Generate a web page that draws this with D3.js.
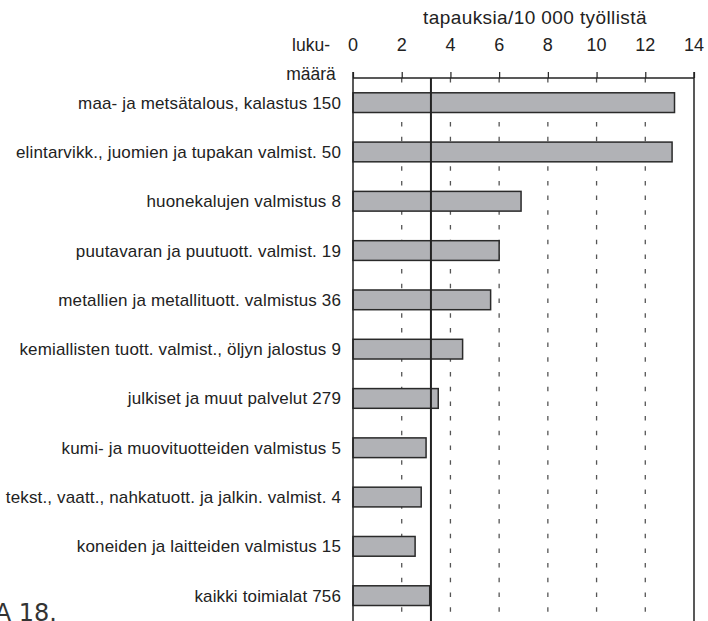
<!DOCTYPE html>
<html>
<head>
<meta charset="utf-8">
<script src="https://cdn.jsdelivr.net/npm/d3@7"></script>
<style>
  body { margin: 0; background: #fff; }
  text { font-family: "Liberation Sans", Arial, sans-serif; fill: #222; }
</style>
</head>
<body>
<svg id="chart" width="708" height="621"></svg>
<script>
// toimialat, lukumäärä ja tapauksia / 10 000 työllistä
var categories = [
  "maa- ja metsätalous, kalastus",
  "elintarvikk., juomien ja tupakan valmist.",
  "huonekalujen valmistus",
  "puutavaran ja puutuott. valmist.",
  "metallien ja metallituott. valmistus",
  "kemiallisten tuott. valmist., öljyn jalostus",
  "julkiset ja muut palvelut",
  "kumi- ja muovituotteiden valmistus",
  "tekst., vaatt., nahkatuott. ja jalkin. valmist.",
  "koneiden ja laitteiden valmistus",
  "kaikki toimialat"
];
var counts = [150, 50, 8, 19, 36, 9, 279, 5, 4, 15, 756];
var rates = [13.2, 13.1, 6.9, 6.0, 5.65, 4.5, 3.5, 3.0, 2.8, 2.55, 3.15];
var average = 3.2;
var ticks = [0, 2, 4, 6, 8, 10, 12, 14];

var svg = d3.select("#chart");
var left = 353, right = 694, axisY = 78, bottom = 625;

var x = d3.scaleLinear().domain([0, 14]).range([left, right]);
var y = d3.scaleBand().domain(categories).range([axisY, axisY + 11 * 49.3]).paddingInner(0.6).paddingOuter(0.3);

// katkoviivat
svg.append("g").selectAll("line")
  .data(ticks.slice(1, -1))
  .enter().append("line")
  .attr("x1", d => x(d)).attr("x2", d => x(d))
  .attr("y1", axisY).attr("y2", bottom)
  .attr("stroke", "#555").attr("stroke-width", 1.3)
  .attr("stroke-dasharray", "4.5,10.2");

// palkit
svg.append("g").selectAll("rect")
  .data(categories)
  .enter().append("rect")
  .attr("x", x(0))
  .attr("y", d => y(d))
  .attr("width", (d, i) => x(rates[i]) - x(0))
  .attr("height", y.bandwidth())
  .attr("fill", "#b1b2b6")
  .attr("stroke", "#2a2a2a").attr("stroke-width", 1.5);

// kehys
svg.append("line").attr("x1", left).attr("x2", left).attr("y1", axisY - 6).attr("y2", bottom)
  .attr("stroke", "#222").attr("stroke-width", 1.5);
svg.append("line").attr("x1", right).attr("x2", right).attr("y1", axisY - 6).attr("y2", bottom)
  .attr("stroke", "#222").attr("stroke-width", 1.5);

// akseli ylhäällä
var axis = d3.axisTop(x).tickValues(ticks).tickSize(6).tickFormat("");
var ax = svg.append("g").attr("transform", "translate(0," + axisY + ")").call(axis);
ax.select(".domain").attr("stroke", "#222").attr("stroke-width", 1.5).attr("d", "M" + left + ",0H" + right);
ax.selectAll(".tick line").attr("stroke", "#222").attr("stroke-width", 1.2);

svg.append("g").selectAll("text")
  .data(ticks)
  .enter().append("text")
  .attr("x", d => x(d)).attr("y", 51)
  .attr("text-anchor", "middle")
  .style("font-size", "18px")
  .text(d => d);

// keskiarvoviiva
svg.append("line").attr("x1", x(average)).attr("x2", x(average))
  .attr("y1", axisY).attr("y2", bottom)
  .attr("stroke", "#222").attr("stroke-width", 2);

// selitteet
svg.append("g").selectAll("text")
  .data(categories)
  .enter().append("text")
  .attr("x", 341)
  .attr("y", d => y(d) + y.bandwidth() / 2)
  .attr("dy", "0.35em")
  .attr("text-anchor", "end")
  .style("font-size", "17px")
  .style("letter-spacing", "0.15px")
  .text((d, i) => d + " " + counts[i]);

svg.append("text").attr("x", 535).attr("y", 24).attr("text-anchor", "middle")
  .style("font-size", "19px").style("letter-spacing", "0.4px").text("tapauksia/10 000 työllistä");
svg.append("text").attr("x", 311).attr("y", 51).attr("text-anchor", "middle")
  .style("font-size", "17.5px").text("luku-");
svg.append("text").attr("x", 311).attr("y", 80).attr("text-anchor", "middle")
  .style("font-size", "17.5px").text("määrä");

svg.append("text").attr("x", 57).attr("y", 621).attr("text-anchor", "end")
  .style("font-family", "'DejaVu Sans', sans-serif").style("font-size", "24px")
  .style("fill", "#333").text("KUVA 18.");
</script>
</body>
</html>
